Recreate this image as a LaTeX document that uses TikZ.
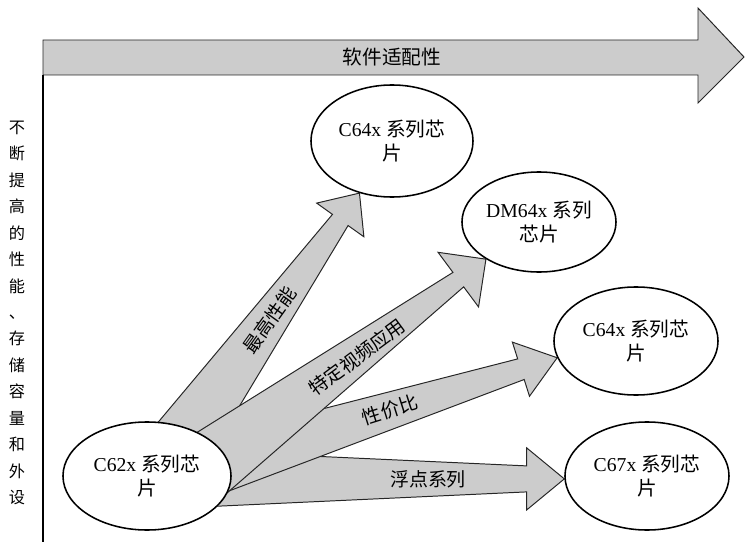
\documentclass[tikz,border=0pt]{standalone}
\usepackage{fontspec}
\setmainfont{Liberation Serif}
\newfontfamily\cjk{Noto Sans CJK SC}
\usepackage{tikz}
\usetikzlibrary{shapes.geometric, calc, backgrounds}
\tikzstyle{chip} = [ellipse, draw=black, line width=1.1pt, fill=white, inner sep=0pt, align=center, font=\fontsize{14}{17}\selectfont]
\tikzstyle{fan} = [draw=black!85, fill=black!20, line width=0.7pt, line join=miter]
\tikzstyle{tag} = [font=\cjk\fontsize{13.5}{16}\selectfont, inner sep=0pt]

% tapered block arrow: from, to, base half width, neck half width, head half width, head length
\newcommand{\fanarrow}[6]{%
  \coordinate (neck) at ($(#2)!#6!(#1)$);
  \filldraw[fan] ($(#1)!#3!90:(#2)$) -- ($(neck)!#4!90:(#2)$) -- ($(neck)!#5!90:(#2)$) -- (#2)
    -- ($(neck)!#5!-90:(#2)$) -- ($(neck)!#4!-90:(#2)$) -- ($(#1)!#3!-90:(#2)$) -- cycle;
}

\begin{document}
\begin{tikzpicture}[x=0.025cm, y=0.025cm]
        \useasboundingbox (0,0) rectangle (745,542);

        % software compatibility arrow on top
        \filldraw[fan] (43,467) -- (43,502) -- (698,502) -- (698,534) -- (744,485)
            -- (698,439) -- (698,467) -- cycle;
        \node[tag, font=\cjk\fontsize{14}{16}\selectfont] (soft) at (392,485) {软件适配性};
        \draw[line width=0.8pt] (43,467) -- (43,0);
        \node[tag, font=\cjk\fontsize{11.5}{18.8}\selectfont, align=center] (perf) at (17,229)
            {不\\断\\提\\高\\的\\性\\能\\、\\存\\储\\容\\量\\和\\外\\设};

        \node[chip, minimum width=4.2cm, minimum height=2.7cm] (c62) at (147,66) {C62x {\cjk 系列芯}\\{\cjk 片}};
        \node[chip, minimum width=4.05cm, minimum height=2.8cm] (c64a) at (392,401) {C64x {\cjk 系列芯}\\{\cjk 片}};
        \node[chip, minimum width=3.85cm, minimum height=2.5cm] (dm64) at (539,320) {DM64x {\cjk 系列}\\{\cjk 芯片}};
        \node[chip, minimum width=4.1cm, minimum height=2.7cm] (c64b) at (636,201) {C64x {\cjk 系列芯}\\{\cjk 片}};
        \node[chip, minimum width=4.1cm, minimum height=2.7cm] (c67) at (647,66) {C67x {\cjk 系列芯}\\{\cjk 片}};

        \coordinate (s1) at ($(c62.center)+(27,23)$);
        \coordinate (s2) at ($(c62.center)+(49,2)$);
        \coordinate (s3) at ($(c62.center)+(48.5,4)$);
        \coordinate (s4) at ($(c62.center)+(53,-3)$);

        \begin{pgfonlayer}{background}
            \fanarrow{s1}{c64a.238}{0.8cm}{0.24cm}{0.725cm}{0.825cm}
            \fanarrow{s4}{c67.182}{0.7cm}{0.325cm}{0.775cm}{0.94cm}
            \fanarrow{s3}{c64b.192}{0.74cm}{0.27cm}{0.71cm}{0.95cm}
            \fanarrow{s2}{dm64.215}{0.87cm}{0.225cm}{0.85cm}{0.86cm}
        \end{pgfonlayer}

        \node[tag, rotate=54.4] (l1) at (270,222) {最高性能};
        \node[tag, rotate=36.5] (l2) at (357,185) {特定视频应用};
        \node[tag, rotate=17.5] (l3) at (390,132) {性价比};
        \node[tag] (l4) at (428,63) {浮点系列};
\end{tikzpicture}
\end{document}
